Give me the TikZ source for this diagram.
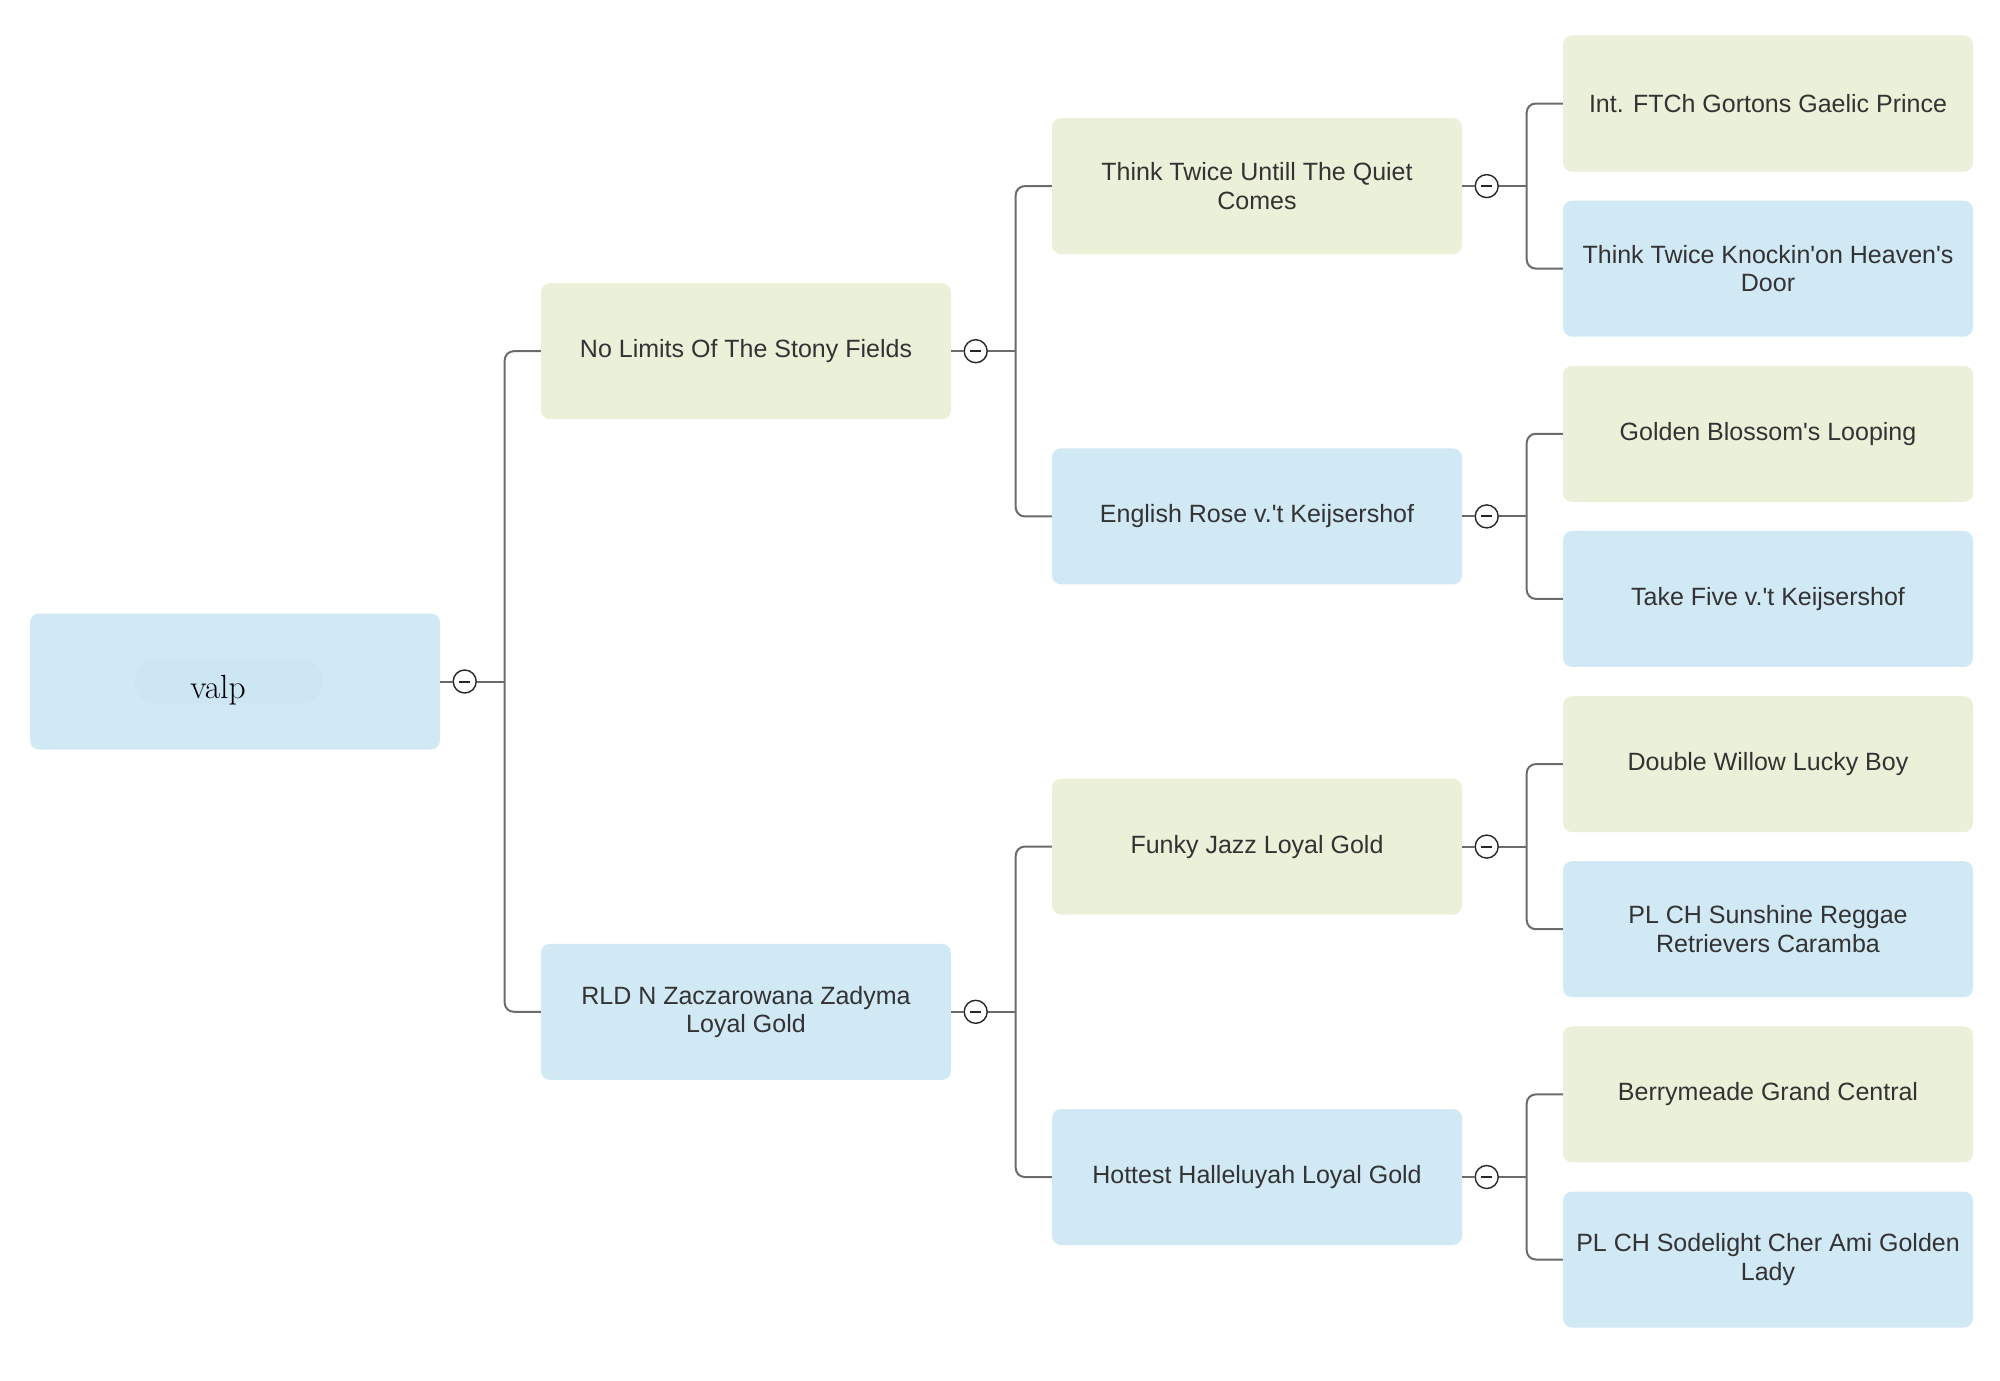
\documentclass[tikz,border=0pt]{standalone}
\usepackage{fontspec}
\newfontfamily\arialf{Liberation Sans}
\usetikzlibrary{calc}
\definecolor{gboxc}{HTML}{EBF0D9}
\definecolor{bboxc}{HTML}{D1E8F5}
\definecolor{hlc}{HTML}{CCE6F3}
\definecolor{txtc}{HTML}{333333}
\definecolor{linc}{HTML}{6B6B6B}
\tikzset{
  basebox/.style={rounded corners=9pt, minimum width=410pt, minimum height=136pt, inner sep=0pt, align=center, font=\arialf\fontsize{25}{28.5}\selectfont, text=txtc},
  gbox/.style={basebox, fill=gboxc},
  bbox/.style={basebox, fill=bboxc},
  conn/.style={draw=linc, line width=2pt},
  branch/.style={conn, rounded corners=9pt},
  togg/.style={circle, draw=black!85, line width=1.4pt, minimum size=23pt, inner sep=0pt, fill=white},
  minusbar/.style={draw=black!85, line width=2pt}
}
\newcommand{\fork}[4]{% parent, toggle name, child a, child b
  \node[togg] (#2) at ($(#1.east)+(24.5,0)$) {};
  \coordinate (#2j) at ($(#1.east)+(64.5,0)$);
  \draw[conn] (#1.east) -- (#2.west);
  \draw[conn] (#2.east) -- (#2j);
  \draw[minusbar] ($(#2.center)+(-5.5,0)$) -- ($(#2.center)+(5.5,0)$);
  \draw[branch] (#3.west) -| (#2j) |- (#4.west);
}
\begin{document}
\begin{tikzpicture}[x=1pt,y=-1pt]
\useasboundingbox (0,0) rectangle (2000,1381);
% level 0
\node[bbox] (n0) at (235,681.5) {};
\fill[hlc, rounded corners=20pt] (135,659) rectangle (322,703);
\node[anchor=base, inner sep=0pt, font=\fontsize{33.5}{33.5}\selectfont] (n0t) at (218,698) {valp};
% level 1
\node[gbox] (a1) at (746,351.2) {No Limits Of The Stony Fields};
\node[bbox] (a2) at (746,1011.8) {RLD N Zaczarowana Zadyma\\Loyal Gold};
% level 2
\node[gbox] (b1) at (1257,186.1) {Think Twice Untill The Quiet\\Comes};
\node[bbox] (b2) at (1257,516.4) {English Rose v.'t Keijsershof};
\node[gbox] (b3) at (1257,846.6) {Funky Jazz Loyal Gold};
\node[bbox] (b4) at (1257,1177.0) {Hottest Halleluyah Loyal Gold};
% level 3
\node[gbox] (c1) at (1768,103.5) {Int. FTCh Gortons Gaelic Prince};
\node[bbox] (c2) at (1768,268.6) {Think Twice Knockin'on Heaven's\\Door};
\node[gbox] (c3) at (1768,433.8) {Golden Blossom's Looping};
\node[bbox] (c4) at (1768,598.9) {Take Five v.'t Keijsershof};
\node[gbox] (c5) at (1768,764.1) {Double Willow Lucky Boy};
\node[bbox] (c6) at (1768,929.2) {PL CH Sunshine Reggae\\Retrievers Caramba};
\node[gbox] (c7) at (1768,1094.4) {Berrymeade Grand Central};
\node[bbox] (c8) at (1768,1259.5) {PL CH Sodelight Cher Ami Golden\\Lady};
% connectors
\fork{n0}{t0}{a1}{a2}
\fork{a1}{t1}{b1}{b2}
\fork{a2}{t2}{b3}{b4}
\fork{b1}{t3}{c1}{c2}
\fork{b2}{t4}{c3}{c4}
\fork{b3}{t5}{c5}{c6}
\fork{b4}{t6}{c7}{c8}
\end{tikzpicture}
\end{document}
